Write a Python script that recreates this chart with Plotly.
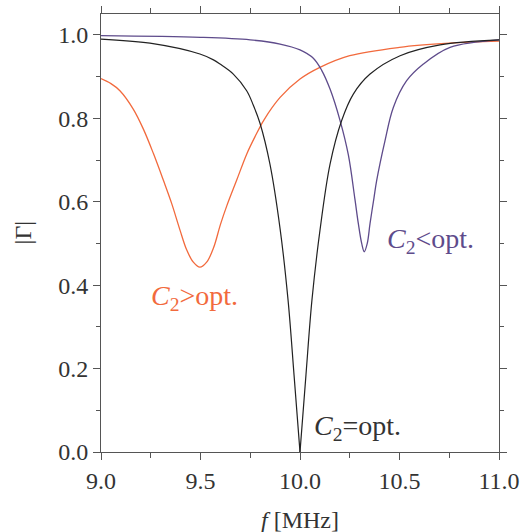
import plotly.graph_objects as go

# C2 = opt. (black)
x_opt = [9.0, 9.246, 9.497, 9.565, 9.598, 9.665, 9.732, 9.765, 9.799, 9.849, 9.9, 9.94, 9.97, 10.0,
         10.03, 10.06, 10.1, 10.151, 10.209, 10.268, 10.352, 10.503, 10.704, 11.0]
y_opt = [0.990, 0.980, 0.954, 0.940, 0.930, 0.906, 0.866, 0.832, 0.788, 0.690, 0.535, 0.364, 0.185, 0.0,
         0.185, 0.364, 0.530, 0.690, 0.794, 0.858, 0.906, 0.950, 0.976, 0.988]

# C2 > opt. (orange)
x_gt = [9.0, 9.05, 9.095, 9.162, 9.213, 9.263, 9.313, 9.355, 9.397, 9.431, 9.464, 9.497, 9.531,
        9.566, 9.60, 9.632, 9.682, 9.732, 9.774, 9.82, 9.9, 10.0, 10.1, 10.25, 10.5, 10.75, 11.0]
y_gt = [0.895, 0.883, 0.866, 0.822, 0.774, 0.716, 0.652, 0.596, 0.532, 0.484, 0.455, 0.443, 0.455,
        0.490, 0.545, 0.590, 0.652, 0.714, 0.756, 0.797, 0.850, 0.894, 0.922, 0.950, 0.970, 0.980, 0.985]

# C2 < opt. (purple)
x_lt = [9.0, 9.5, 9.75, 9.9, 10.0, 10.067, 10.109, 10.151, 10.201, 10.243, 10.276, 10.293,
        10.31, 10.323, 10.338, 10.352, 10.372, 10.385, 10.427, 10.469, 10.536, 10.62, 10.754, 11.0]
y_lt = [0.998, 0.994, 0.988, 0.978, 0.964, 0.944, 0.915, 0.870, 0.795, 0.712, 0.606, 0.548,
        0.500, 0.480, 0.500, 0.548, 0.610, 0.650, 0.746, 0.826, 0.890, 0.930, 0.970, 0.988]

x_ticks = [9.0, 9.5, 10.0, 10.5, 11.0]
y_ticks = [0.0, 0.2, 0.4, 0.6, 0.8, 1.0]

BLACK = "#222222"
ORANGE = "#F26A3D"
PURPLE = "#5E4B8B"
TEXT = "#333333"
SERIF = "Times New Roman, Liberation Serif, DejaVu Serif, serif"

fig = go.Figure()
fig.add_trace(go.Scatter(x=x_gt, y=y_gt, mode="lines",
                         line=dict(color=ORANGE, width=1.3, shape="spline", smoothing=1.0)))
fig.add_trace(go.Scatter(x=x_lt, y=y_lt, mode="lines",
                         line=dict(color=PURPLE, width=1.3, shape="spline", smoothing=1.0)))
# black curve drawn as two branches so the zero point stays a sharp V
i0 = y_opt.index(min(y_opt))
fig.add_trace(go.Scatter(x=x_opt[:i0 + 1], y=y_opt[:i0 + 1], mode="lines",
                         line=dict(color=BLACK, width=1.2, shape="spline", smoothing=1.0)))
fig.add_trace(go.Scatter(x=x_opt[i0:], y=y_opt[i0:], mode="lines",
                         line=dict(color=BLACK, width=1.2, shape="spline", smoothing=1.0)))

ann_font = 28
fig.add_annotation(x=9.241, y=0.371, xref="x", yref="y", xanchor="left", yanchor="middle",
                   text="<i>C</i><sub>2</sub>&gt;opt.", showarrow=False,
                   font=dict(family=SERIF, size=ann_font, color=ORANGE))
fig.add_annotation(x=10.427, y=0.508, xref="x", yref="y", xanchor="left", yanchor="middle",
                   text="<i>C</i><sub>2</sub>&lt;opt.", showarrow=False,
                   font=dict(family=SERIF, size=ann_font, color=PURPLE))
fig.add_annotation(x=10.06, y=0.059, xref="x", yref="y", xanchor="left", yanchor="middle",
                   text="<i>C</i><sub>2</sub>=opt.", showarrow=False,
                   font=dict(family=SERIF, size=ann_font, color=TEXT))

# axis titles
fig.add_annotation(x=0.5, y=-0.155, xref="paper", yref="paper", xanchor="center", yanchor="middle",
                   text="<i>f</i> [MHz]", showarrow=False,
                   font=dict(family=SERIF, size=24, color=TEXT))
fig.add_annotation(x=-0.195, y=0.5, xref="paper", yref="paper", xanchor="center", yanchor="middle",
                   text="|Γ|", showarrow=False, textangle=-90,
                   font=dict(family=SERIF, size=24, color=TEXT))

axis_common = dict(showline=True, linecolor="#555555", linewidth=1, mirror="ticks",
                   ticks="outside", tickcolor="#555555", ticklen=7, tickwidth=1,
                   showgrid=False, zeroline=False, automargin=False,
                   tickfont=dict(family=SERIF, size=24, color=TEXT))

fig.update_xaxes(range=[9.0, 11.0], tickvals=x_ticks, tickformat=".1f",
                 minor=dict(dtick=0.25, ticks="outside", ticklen=5, tickcolor="#555555"),
                 **axis_common)
fig.update_yaxes(range=[0.0, 1.05], tickvals=y_ticks, tickformat=".1f",
                 minor=dict(dtick=0.1, ticks="outside", ticklen=4, tickcolor="#555555"),
                 **axis_common)

fig.update_layout(width=522, height=532, showlegend=False,
                  plot_bgcolor="white", paper_bgcolor="white",
                  margin=dict(l=101, r=23, t=14, b=80))

fig.write_html("out.html")
